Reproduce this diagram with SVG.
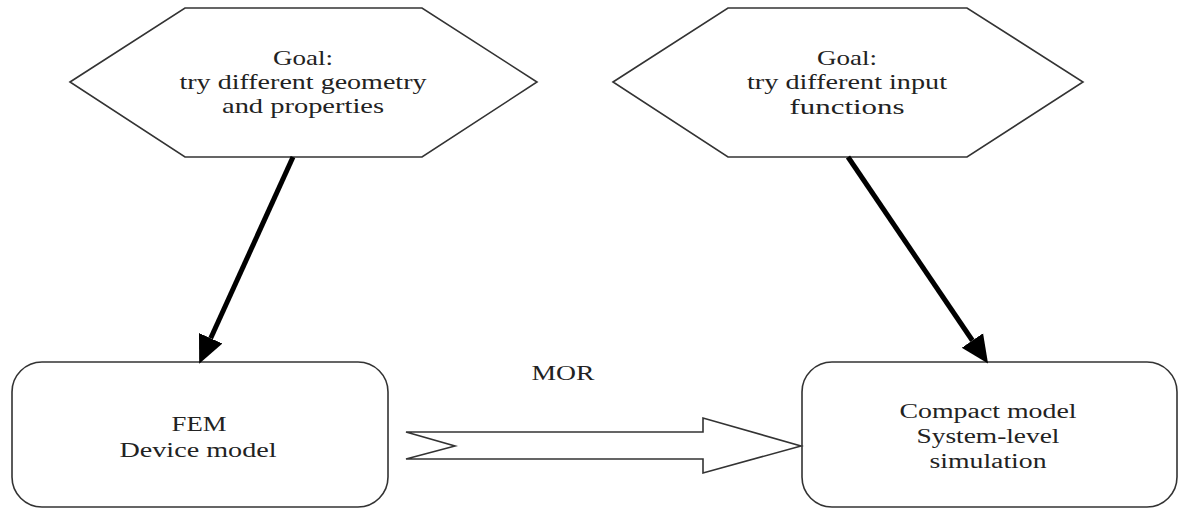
<svg xmlns="http://www.w3.org/2000/svg" width="1181" height="510" viewBox="0 0 1181 510">
<style>
.shape{fill:#fff;stroke:#333;stroke-width:1.6;stroke-linejoin:miter}
.t{font-family:"Liberation Serif","Times New Roman",serif;fill:#222;text-anchor:middle}
.h{font-size:22px}
.b{font-size:20px}
.conn{fill:none;stroke:#000;stroke-width:5}
</style>
<defs>
<marker id="head" markerUnits="userSpaceOnUse" markerWidth="30" markerHeight="30" viewBox="0 -13 28 26" refX="0" refY="0" orient="auto">
<path d="M0,-12 L26,0 L0,12 z" fill="#000"/>
</marker>
</defs>
<rect width="1181" height="510" fill="#fff"/>
<g id="goal-geometry">
<polygon class="shape" points="70,82 185,8 422,8 537,82 422,157 185,157"/>
<text class="t h" x="303" y="65" textLength="60" lengthAdjust="spacingAndGlyphs">Goal:</text>
<text class="t h" x="303" y="89" textLength="247" lengthAdjust="spacingAndGlyphs">try different geometry</text>
<text class="t h" x="303" y="113" textLength="162" lengthAdjust="spacingAndGlyphs">and properties</text>
</g>
<g id="goal-input">
<polygon class="shape" points="613,82 728,8 967,8 1083,82 967,157 728,157"/>
<text class="t h" x="847" y="65" textLength="60" lengthAdjust="spacingAndGlyphs">Goal:</text>
<text class="t h" x="847" y="89" textLength="200" lengthAdjust="spacingAndGlyphs">try different input</text>
<text class="t h" x="847" y="114" textLength="115" lengthAdjust="spacingAndGlyphs">functions</text>
</g>
<g id="fem">
<rect class="shape" x="12" y="362" width="376" height="145" rx="30" ry="30"/>
<text class="t b" x="199" y="431" textLength="55" lengthAdjust="spacingAndGlyphs">FEM</text>
<text class="t b" x="198" y="457" textLength="157" lengthAdjust="spacingAndGlyphs">Device model</text>
</g>
<g id="compact">
<rect class="shape" x="802" y="362" width="375" height="145" rx="30" ry="30"/>
<text class="t b" x="988" y="418" textLength="177" lengthAdjust="spacingAndGlyphs">Compact model</text>
<text class="t b" x="988" y="443" textLength="143" lengthAdjust="spacingAndGlyphs">System-level</text>
<text class="t b" x="988" y="468" textLength="117" lengthAdjust="spacingAndGlyphs">simulation</text>
</g>
<g id="connectors">
<line class="conn" x1="293" y1="157" x2="210.7" y2="338.3" marker-end="url(#head)"/>
<line class="conn" x1="848" y1="157" x2="972.4" y2="340.5" marker-end="url(#head)"/>
<polygon class="shape" points="406,432 703,432 703,418 801,446 703,473 703,459 406,459 455,446"/>
<text class="t b" x="563" y="380" textLength="63" lengthAdjust="spacingAndGlyphs">MOR</text>
</g>
</svg>
